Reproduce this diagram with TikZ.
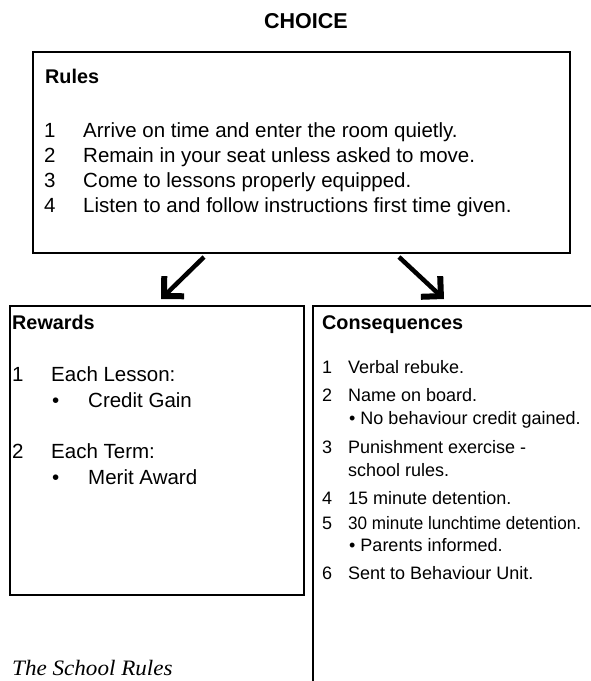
\documentclass[tikz,border=0pt]{standalone}
\usepackage{fontspec}
\setmainfont{Liberation Sans}
\newfontfamily\captionfont{Liberation Serif}
\usepackage{graphicx}
\usetikzlibrary{arrows.meta}

\tikzset{box/.style={draw, line width=2.2pt, rectangle, inner sep=0pt, anchor=north west}}
\tikzset{heading/.style={anchor=base west, inner sep=0pt, font=\fontsize{19.8}{23}\selectfont\bfseries}}
\tikzset{bigtext/.style={anchor=base west, inner sep=0pt, font=\fontsize{20.5}{25}\selectfont}}
\tikzset{smalltext/.style={anchor=base west, inner sep=0pt, font=\fontsize{18}{22}\selectfont}}
\tikzset{bigarrow/.style={line width=4.5pt, -{Straight Barb[angle=90:20pt, line width=6pt]}}}

\begin{document}
\begin{tikzpicture}[x=1pt, y=-1pt]
\useasboundingbox (0,0) rectangle (591,681);
\node[anchor=base, inner sep=0pt, font=\fontsize{21.5}{25}\selectfont\bfseries] (choice) at (306,28) {CHOICE};
% top box
\node[box, minimum width=537pt, minimum height=201pt] (rules) at (32,51) {};
\node[heading] (rulestitle) at (45,83) {Rules};
\foreach \n/\y/\t in {1/137/Arrive on time and enter the room quietly.,
                      2/162/Remain in your seat unless asked to move.,
                      3/187/Come to lessons properly equipped.,
                      4/212/Listen to and follow instructions first time given.} {
\node[bigtext] (rn\n) at (44,\y) {\n};
\node[bigtext] (rt\n) at (83,\y) {\t};
}
% arrows
\coordinate (la) at (204,257);
\coordinate (lb) at (161,299);
\coordinate (ra) at (399,257);
\coordinate (rb) at (444,299);
\draw[bigarrow] (la) -- (lb);
\draw[bigarrow] (ra) -- (rb);
% rewards
\node[box, minimum width=294pt, minimum height=289pt] (rewards) at (9,305) {};
\node[heading] (rewtitle) at (12,329) {Rewards};
\node[bigtext] (wn1) at (12,381) {1};
\node[bigtext] (wt1) at (51,381) {Each Lesson:};
\node[bigtext] (wb1) at (52,407) {•};
\node[bigtext] (ws1) at (88,407) {Credit Gain};
\node[bigtext] (wn2) at (12,458) {2};
\node[bigtext] (wt2) at (51,458) {Each Term:};
\node[bigtext] (wb2) at (52,484) {•};
\node[bigtext] (ws2) at (88,484) {Merit Award};
% consequences
\node[box, minimum width=300pt, minimum height=400pt] (conseq) at (312,305) {};
\node[heading] (contitle) at (322,329) {Consequences};
\node[smalltext] (cn1) at (322,373) {1};
\node[smalltext] (ct1) at (348,373) {Verbal rebuke.};
\node[smalltext] (cn2) at (322,401) {2};
\node[smalltext] (ct2) at (348,401) {Name on board.};
\node[smalltext] (cs2) at (349,424) {• No behaviour credit gained.};
\node[smalltext] (cn3) at (322,453) {3};
\node[smalltext] (ct3) at (348,453) {Punishment exercise -};
\node[smalltext] (cs3) at (348,476) {school rules.};
\node[smalltext] (cn4) at (322,504) {4};
\node[smalltext] (ct4) at (348,504) {15 minute detention.};
\node[smalltext] (cn5) at (322,529) {5};
\node[smalltext] (ct5) at (348,529) {\scalebox{0.95}[1]{30 minute lunchtime detention.}};
\node[smalltext] (cs5) at (349,551) {• Parents informed.};
\node[smalltext] (cn6) at (322,579) {6};
\node[smalltext] (ct6) at (348,579) {Sent to Behaviour Unit.};
% caption
\node[anchor=base west, inner sep=0pt, font=\captionfont\itshape\fontsize{22}{26}\selectfont] (caption) at (12,675) {\scalebox{1.05}[1]{The School Rules}};
\end{tikzpicture}
\end{document}
